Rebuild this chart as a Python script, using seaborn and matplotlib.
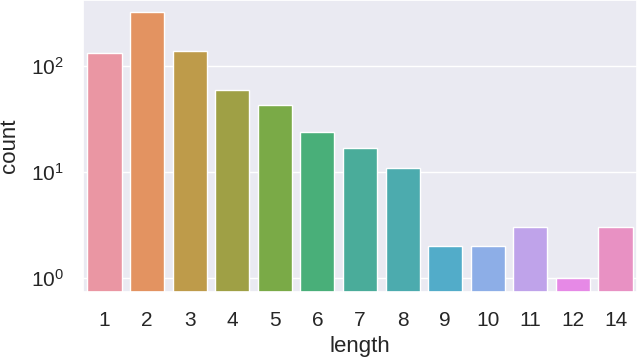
import matplotlib
matplotlib.use("Agg")
import matplotlib.pyplot as plt
import seaborn as sns

# Data
lengths = ["1", "2", "3", "4", "5", "6", "7", "8", "9", "10", "11", "12", "14"]
counts = [133, 326, 139, 60, 43, 24, 17, 11, 2, 2, 3, 1, 3]

sns.set_theme(style="darkgrid")
plt.rcParams['font.family'] = ['Liberation Sans', 'DejaVu Sans']

fig, ax = plt.subplots(figsize=(6.4, 3.6), dpi=100)
palette = sns.husl_palette(len(lengths), l=.7)
sns.barplot(x=lengths, y=counts, hue=lengths, palette=palette, legend=False,
            saturation=0.75, ax=ax)
ax.set_yscale("log")
ax.set_ylim(0.74, 424)
ax.set_xlabel("length", fontsize=16, labelpad=4)
ax.set_ylabel("count", fontsize=16, labelpad=8)
ax.tick_params(axis='both', labelsize=15, pad=8)
ax.tick_params(axis='y', which='minor', left=False)

fig.subplots_adjust(left=0.13, right=0.995, top=1.0, bottom=0.19)
fig.savefig("out.png", dpi=100)
